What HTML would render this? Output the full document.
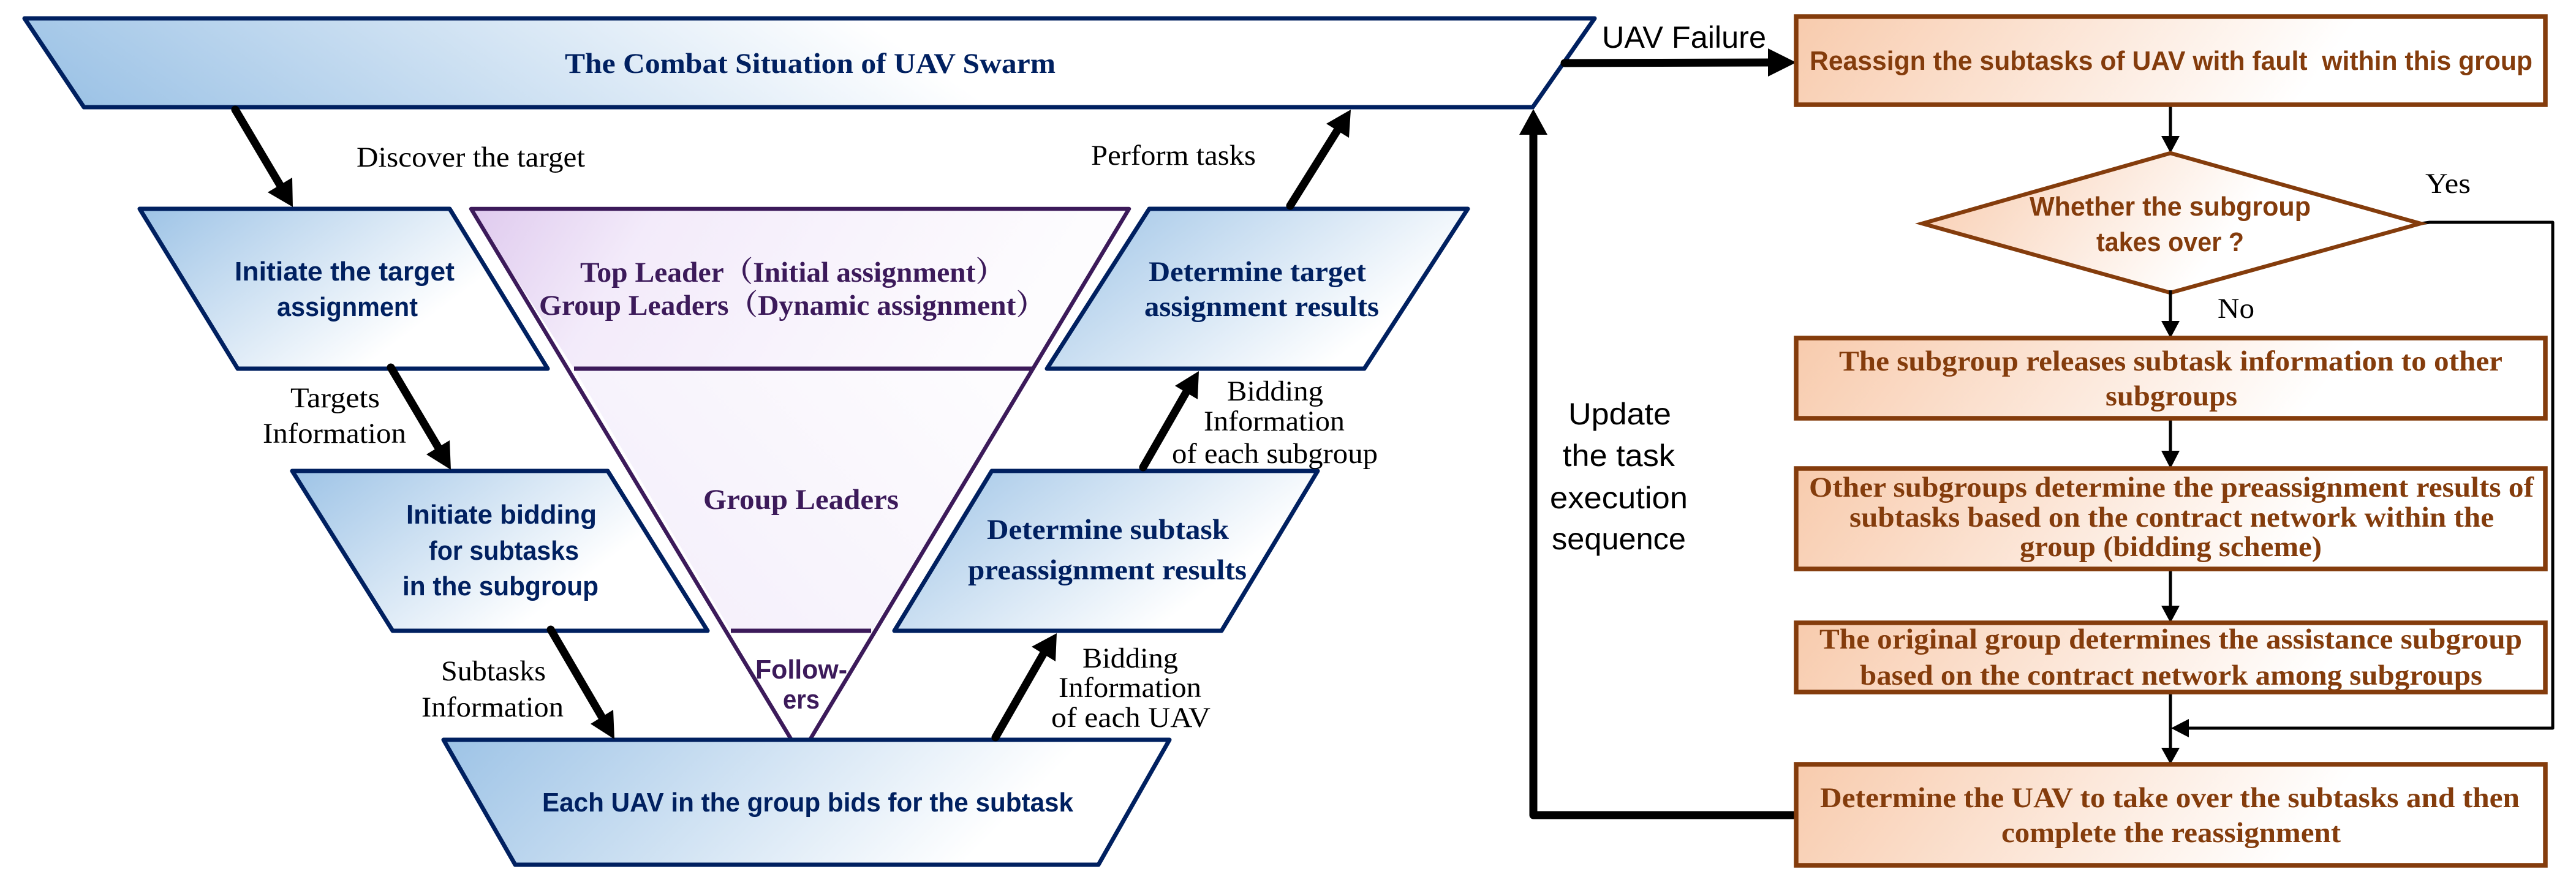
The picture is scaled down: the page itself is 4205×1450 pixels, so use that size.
<!DOCTYPE html>
<html><head><meta charset="utf-8"><style>
html,body{margin:0;padding:0;background:#fff}
svg{display:block}
.s{font-family:"Liberation Serif","Noto Serif CJK SC",serif;font-size:47px;fill:#000}
.b{font-family:"Liberation Serif","Noto Serif CJK SC",serif;font-size:47px;font-weight:bold}
.c{font-family:"Liberation Sans",sans-serif;font-size:44px;font-weight:bold}
.u{font-family:"Liberation Sans",sans-serif;font-size:50px;fill:#000}
.bl{fill:#002060}.br{fill:#843c0c}.pu{fill:#3c1a5a}
</style></head><body>
<svg xmlns="http://www.w3.org/2000/svg" width="4205" height="1450" viewBox="0 0 4205 1450">
<defs>
<linearGradient id="g0" gradientUnits="userSpaceOnUse" x1="137" y1="175" x2="594" y2="-510"><stop offset="0" stop-color="#9dc3e6"/><stop offset="1" stop-color="#fff"/></linearGradient>
<linearGradient id="g1" gradientUnits="userSpaceOnUse" x1="228" y1="341" x2="484" y2="682"><stop offset="0" stop-color="#9dc3e6"/><stop offset="1" stop-color="#fff"/></linearGradient>
<linearGradient id="g2" gradientUnits="userSpaceOnUse" x1="477" y1="769" x2="733" y2="1110"><stop offset="0" stop-color="#9dc3e6"/><stop offset="1" stop-color="#fff"/></linearGradient>
<linearGradient id="g3" gradientUnits="userSpaceOnUse" x1="724" y1="1208" x2="1249" y2="1733"><stop offset="0" stop-color="#9dc3e6"/><stop offset="1" stop-color="#fff"/></linearGradient>
<linearGradient id="g4" gradientUnits="userSpaceOnUse" x1="1709" y1="341" x2="1997" y2="725"><stop offset="0" stop-color="#9dc3e6"/><stop offset="1" stop-color="#fff"/></linearGradient>
<linearGradient id="g5" gradientUnits="userSpaceOnUse" x1="1460" y1="769" x2="1740" y2="1139"><stop offset="0" stop-color="#9dc3e6"/><stop offset="1" stop-color="#fff"/></linearGradient>
<linearGradient id="gp" gradientUnits="userSpaceOnUse" x1="769" y1="341" x2="1500" y2="800"><stop offset="0" stop-color="#dfcaee"/><stop offset=".3" stop-color="#f3ebfa"/><stop offset="1" stop-color="#fdfcfe"/></linearGradient>
<linearGradient id="gm" gradientUnits="userSpaceOnUse" x1="1600" y1="602" x2="1150" y2="1030"><stop offset="0" stop-color="#fdfcfe"/><stop offset="1" stop-color="#f5f0fb"/></linearGradient>
<linearGradient id="o1" gradientUnits="userSpaceOnUse" x1="2932" y1="28" x2="3522" y2="470"><stop offset="0" stop-color="#f8cbad"/><stop offset="1" stop-color="#fff"/></linearGradient>
<linearGradient id="o2" gradientUnits="userSpaceOnUse" x1="2932" y1="552" x2="3522" y2="994"><stop offset="0" stop-color="#f8cbad"/><stop offset="1" stop-color="#fff"/></linearGradient>
<linearGradient id="o3" gradientUnits="userSpaceOnUse" x1="2932" y1="765" x2="3522" y2="1207"><stop offset="0" stop-color="#f8cbad"/><stop offset="1" stop-color="#fff"/></linearGradient>
<linearGradient id="o4" gradientUnits="userSpaceOnUse" x1="2932" y1="1017" x2="3522" y2="1459"><stop offset="0" stop-color="#f8cbad"/><stop offset="1" stop-color="#fff"/></linearGradient>
<linearGradient id="o5" gradientUnits="userSpaceOnUse" x1="2932" y1="1248" x2="3522" y2="1690"><stop offset="0" stop-color="#f8cbad"/><stop offset="1" stop-color="#fff"/></linearGradient>
<linearGradient id="od" gradientUnits="userSpaceOnUse" x1="3138" y1="251" x2="3523" y2="540"><stop offset="0" stop-color="#f8cbad"/><stop offset="1" stop-color="#fff"/></linearGradient>
</defs>

<!-- purple funnel: three separately filled bands -->
<polygon points="769,341 1843,341 1686,602 937,602" fill="url(#gp)"/>
<polygon points="937,602 1686,602 1423,1030 1193,1030" fill="url(#gm)"/>
<polygon points="769,341 1843,341 1322,1208 1292,1208" fill="none" stroke="#3c1a5a" stroke-width="6.5" stroke-linejoin="round"/>
<line x1="937" y1="602" x2="1686" y2="602" stroke="#3c1a5a" stroke-width="7"/>
<line x1="1193" y1="1030" x2="1422" y2="1030" stroke="#3c1a5a" stroke-width="7"/>

<!-- blue parallelograms -->
<g stroke="#002060" stroke-width="7" stroke-linejoin="round">
<polygon points="40,30 2603,30 2502,175 137,175" fill="url(#g0)"/>
<polygon points="228,341 734,341 894,602 388,602" fill="url(#g1)"/>
<polygon points="477,769 992,769 1155,1030 641,1030" fill="url(#g2)"/>
<polygon points="724,1208 1909,1208 1793,1412 841,1412" fill="url(#g3)"/>
<polygon points="1876,341 2396,341 2227,602 1709,602" fill="url(#g4)"/>
<polygon points="1619,769 2151,769 1994,1030 1460,1030" fill="url(#g5)"/>
</g>

<!-- thick arrows -->
<g stroke="#000" stroke-width="13" stroke-linecap="round" fill="none">
<line x1="384" y1="179" x2="457" y2="302"/>
<line x1="638" y1="600" x2="715" y2="730"/>
<line x1="899" y1="1028" x2="982" y2="1170"/>
<line x1="1625" y1="1204" x2="1703" y2="1068"/>
<line x1="1866" y1="763" x2="1936" y2="641"/>
<line x1="2106" y1="336" x2="2183" y2="213"/>
<line x1="2554" y1="103" x2="2890" y2="102"/>
<path d="M2932 1331H2503V215" stroke-linecap="butt" stroke-linejoin="round"/>
</g>
<g fill="#000">
<polygon points="477,290 437,314 478,338"/>
<polygon points="734,719 696,742 736,767"/>
<polygon points="1001,1159 964,1182 1003,1207"/>
<polygon points="1684,1056 1723,1080 1725,1034"/>
<polygon points="1918,630 1955,652 1957,606"/>
<polygon points="2165,202 2202,225 2205,179"/>
<polygon points="2886,79 2886,125 2932,102"/>
<polygon points="2480,220 2526,220 2503,178"/>
</g>

<!-- thin arrows -->
<g stroke="#000" stroke-width="5" fill="none">
<line x1="3543" y1="171" x2="3543" y2="225"/>
<line x1="3543" y1="478" x2="3543" y2="527"/>
<line x1="3543" y1="683" x2="3543" y2="739"/>
<line x1="3543" y1="929" x2="3543" y2="992"/>
<line x1="3543" y1="1130" x2="3543" y2="1224"/>
<path d="M3952 365L3966 363H4167V1189H3570" stroke-linejoin="round"/>
</g>
<g fill="#000">
<polygon points="3528,222 3558,222 3543,250"/>
<polygon points="3528,524 3558,524 3543,552"/>
<polygon points="3528,736 3558,736 3543,765"/>
<polygon points="3528,989 3558,989 3543,1017"/>
<polygon points="3528,1221 3558,1221 3543,1248"/>
<polygon points="3573,1174 3573,1204 3544,1189"/>
</g>

<!-- orange boxes -->
<g stroke="#843c0c" stroke-width="7.5" stroke-linejoin="miter">
<rect x="2932" y="27" width="1223" height="144" fill="url(#o1)"/>
<polygon points="3543,250 3951,365 3543,478 3138,365" fill="url(#od)" stroke-width="6.5"/>
<rect x="2932" y="552" width="1223" height="131" fill="url(#o2)"/>
<rect x="2932" y="765" width="1223" height="164" fill="url(#o3)"/>
<rect x="2932" y="1017" width="1223" height="113" fill="url(#o4)"/>
<rect x="2932" y="1248" width="1223" height="165" fill="url(#o5)"/>
</g>
<line x1="3543" y1="474" x2="3543" y2="482" stroke="#000" stroke-width="5"/>

<!-- blue labels -->
<text class="b bl" x="922" y="119" textLength="801" lengthAdjust="spacingAndGlyphs">The Combat Situation of UAV Swarm</text>
<text class="c bl" x="383" y="458" textLength="359" lengthAdjust="spacingAndGlyphs">Initiate the target</text>
<text class="c bl" x="452" y="516" textLength="230" lengthAdjust="spacingAndGlyphs">assignment</text>
<text class="c bl" x="663" y="855" textLength="311" lengthAdjust="spacingAndGlyphs">Initiate bidding</text>
<text class="c bl" x="700" y="914" textLength="245" lengthAdjust="spacingAndGlyphs">for subtasks</text>
<text class="c bl" x="657" y="972" textLength="320" lengthAdjust="spacingAndGlyphs">in the subgroup</text>
<text class="c bl" x="885" y="1325" textLength="867" lengthAdjust="spacingAndGlyphs">Each UAV in the group bids for the subtask</text>
<text class="b bl" x="1875" y="459" textLength="355" lengthAdjust="spacingAndGlyphs">Determine target</text>
<text class="b bl" x="1868" y="516" textLength="383" lengthAdjust="spacingAndGlyphs">assignment results</text>
<text class="b bl" x="1611" y="880" textLength="395" lengthAdjust="spacingAndGlyphs">Determine subtask</text>
<text class="b bl" x="1580" y="946" textLength="455" lengthAdjust="spacingAndGlyphs">preassignment results</text>

<!-- purple labels -->
<text class="b pu" x="947" y="460" textLength="693" lengthAdjust="spacingAndGlyphs">Top Leader（Initial assignment）</text>
<text class="b pu" x="880" y="514" textLength="826" lengthAdjust="spacingAndGlyphs">Group Leaders（Dynamic assignment）</text>
<text class="b pu" x="1148" y="831" textLength="319" lengthAdjust="spacingAndGlyphs">Group Leaders</text>
<text class="c pu" x="1233" y="1108" textLength="150" lengthAdjust="spacingAndGlyphs">Follow-</text>
<text class="c pu" x="1278" y="1157" textLength="60" lengthAdjust="spacingAndGlyphs">ers</text>

<!-- black labels -->
<text class="s" x="582" y="272" textLength="373" lengthAdjust="spacingAndGlyphs">Discover the target</text>
<text class="s" x="474" y="665" textLength="146" lengthAdjust="spacingAndGlyphs">Targets</text>
<text class="s" x="429" y="723" textLength="234" lengthAdjust="spacingAndGlyphs">Information</text>
<text class="s" x="720" y="1111" textLength="171" lengthAdjust="spacingAndGlyphs">Subtasks</text>
<text class="s" x="688" y="1170" textLength="232" lengthAdjust="spacingAndGlyphs">Information</text>
<text class="s" x="1781" y="269" textLength="269" lengthAdjust="spacingAndGlyphs">Perform tasks</text>
<text class="s" x="2003" y="654" textLength="157" lengthAdjust="spacingAndGlyphs">Bidding</text>
<text class="s" x="1965" y="703" textLength="230" lengthAdjust="spacingAndGlyphs">Information</text>
<text class="s" x="1913" y="756" textLength="336" lengthAdjust="spacingAndGlyphs">of each subgroup</text>
<text class="s" x="1767" y="1090" textLength="156" lengthAdjust="spacingAndGlyphs">Bidding</text>
<text class="s" x="1728" y="1138" textLength="233" lengthAdjust="spacingAndGlyphs">Information</text>
<text class="s" x="1716" y="1187" textLength="260" lengthAdjust="spacingAndGlyphs">of each UAV</text>
<text class="s" x="3959" y="315" textLength="74" lengthAdjust="spacingAndGlyphs">Yes</text>
<text class="s" x="3620" y="519" textLength="60" lengthAdjust="spacingAndGlyphs">No</text>
<text class="u" x="2615" y="78" textLength="268" lengthAdjust="spacingAndGlyphs">UAV Failure</text>
<text class="u" x="2560" y="693" textLength="168" lengthAdjust="spacingAndGlyphs">Update</text>
<text class="u" x="2551" y="761" textLength="183" lengthAdjust="spacingAndGlyphs">the task</text>
<text class="u" x="2530" y="830" textLength="225" lengthAdjust="spacingAndGlyphs">execution</text>
<text class="u" x="2533" y="897" textLength="219" lengthAdjust="spacingAndGlyphs">sequence</text>

<!-- brown labels -->
<text class="c br" x="2954" y="114" textLength="1180" lengthAdjust="spacingAndGlyphs" style="white-space:pre">Reassign the subtasks of UAV with fault  within this group</text>
<text class="c br" x="3313" y="352" textLength="459" lengthAdjust="spacingAndGlyphs">Whether the subgroup</text>
<text class="c br" x="3422" y="410" textLength="241" lengthAdjust="spacingAndGlyphs">takes over ?</text>
<text class="b br" x="3002" y="605" textLength="1083" lengthAdjust="spacingAndGlyphs">The subgroup releases subtask information to other</text>
<text class="b br" x="3437" y="662" textLength="215" lengthAdjust="spacingAndGlyphs">subgroups</text>
<text class="b br" x="2953" y="811" textLength="1183" lengthAdjust="spacingAndGlyphs">Other subgroups determine the preassignment results of</text>
<text class="b br" x="3019" y="860" textLength="1052" lengthAdjust="spacingAndGlyphs">subtasks based on the contract network within the</text>
<text class="b br" x="3297" y="908" textLength="493" lengthAdjust="spacingAndGlyphs">group (bidding scheme)</text>
<text class="b br" x="2970" y="1059" textLength="1147" lengthAdjust="spacingAndGlyphs">The original group determines the assistance subgroup</text>
<text class="b br" x="3036" y="1118" textLength="1016" lengthAdjust="spacingAndGlyphs">based on the contract network among subgroups</text>
<text class="b br" x="2971" y="1318" textLength="1142" lengthAdjust="spacingAndGlyphs">Determine the UAV to take over the subtasks and then</text>
<text class="b br" x="3267" y="1375" textLength="554" lengthAdjust="spacingAndGlyphs">complete the reassignment</text>
</svg>
</body></html>
